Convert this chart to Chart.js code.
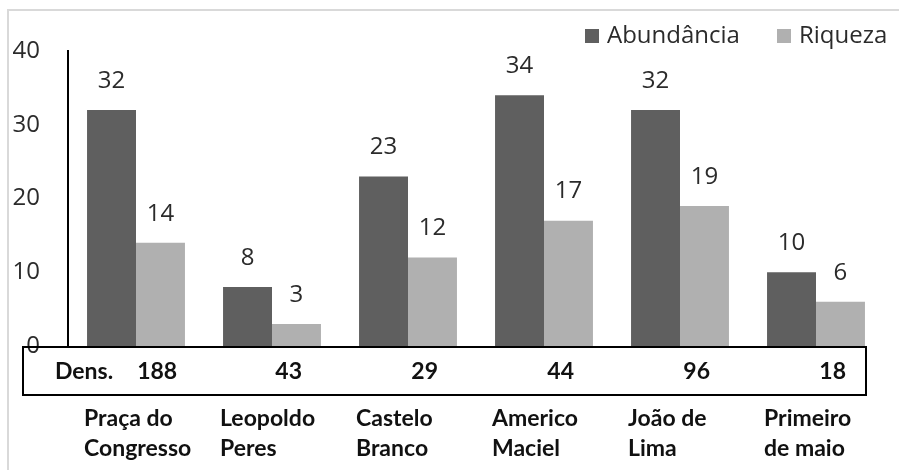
<!DOCTYPE html>
<html>
<head>
<meta charset="utf-8">
<script src="https://cdn.jsdelivr.net/npm/chart.js@4.4.1/dist/chart.umd.min.js"></script>
<style>
  html, body { margin: 0; padding: 0; background: #fff; }
  #wrap { width: 899px; height: 470px; position: relative; }
</style>
</head>
<body>
<div id="wrap"><canvas id="chart" width="899" height="470"></canvas></div>
<script>
const categories = [
    ['Praça do', 'Congresso'],
    ['Leopoldo', 'Peres'],
    ['Castelo', 'Branco'],
    ['Americo', 'Maciel'],
    ['João de', 'Lima'],
    ['Primeiro', 'de maio']
];
const abundancia = [32, 8, 23, 34, 32, 10];
const riqueza = [14, 3, 12, 17, 19, 6];
const densidade = [188, 43, 29, 44, 96, 18];
const densLabel = 'Dens.';
const seriesNames = ['Abundância', 'Riqueza'];
const seriesColors = ['#5f5f5f', '#b0b0b0'];

const tickFont = '"Open Sans", sans-serif';
const boldFont = 'Lato, "Open Sans", sans-serif';
const textColor = '#2b2b2b';

// frame, data labels, density table, category labels, legend
const extras = {
    id: 'extras',
    beforeDraw(chart) {
        const ctx = chart.ctx;
        ctx.save();
        ctx.strokeStyle = '#d9d9d9';
        ctx.lineWidth = 2;
        ctx.beginPath();
        ctx.moveTo(8, 470);
        ctx.lineTo(8, 10);
        ctx.lineTo(899, 10);
        ctx.stroke();
        ctx.restore();
    },
    afterDatasetsDraw(chart) {
        const ctx = chart.ctx;
        const x = chart.scales.x;
        const area = chart.chartArea;
        ctx.save();

        // value labels above bars
        ctx.font = '24px ' + tickFont;
        ctx.fillStyle = textColor;
        ctx.textAlign = 'center';
        ctx.textBaseline = 'middle';
        chart.data.datasets.forEach((ds, i) => {
            chart.getDatasetMeta(i).data.forEach((bar, j) => {
                ctx.fillText(String(ds.data[j]), bar.x, bar.y - 29);
            });
        });

        // density box
        const boxTop = area.bottom + 1;
        const boxBottom = area.bottom + 49;
        const boxLeft = area.left - 45;
        const boxRight = x.getPixelForValue(categories.length - 1) + 50;
        ctx.strokeStyle = '#000';
        ctx.lineWidth = 2;
        ctx.strokeRect(boxLeft, boxTop, boxRight - boxLeft, boxBottom - boxTop);

        ctx.font = 'bold 23px ' + boldFont;
        ctx.fillStyle = '#111';
        const rowY = (boxTop + boxBottom) / 2 + 1;
        ctx.textAlign = 'left';
        ctx.fillText(densLabel, boxLeft + 32, rowY);
        const labelEnd = boxLeft + 32 + ctx.measureText(densLabel).width;
        ctx.textAlign = 'right';
        densidade.forEach((v, j) => {
            const txt = String(v);
            const w = ctx.measureText(txt).width;
            const right = Math.max(x.getPixelForValue(j) + 30, labelEnd + 24 + w);
            ctx.fillText(txt, right, rowY);
        });

        // category labels
        ctx.textAlign = 'left';
        categories.forEach((lines, j) => {
            const cx = x.getPixelForValue(j) - 52;
            lines.forEach((line, k) => {
                ctx.fillText(line, cx, area.bottom + 73 + k * 30);
            });
        });

        // legend
        ctx.font = '24px ' + tickFont;
        ctx.textAlign = 'left';
        const legY = 36;
        const legX = [585, 777];
        seriesNames.forEach((name, i) => {
            ctx.fillStyle = seriesColors[i];
            ctx.fillRect(legX[i], legY - 7, 14, 14);
            ctx.fillStyle = textColor;
            ctx.fillText(name, legX[i] + 22, legY);
        });
        ctx.restore();
    }
};

new Chart(document.getElementById('chart'), {
    type: 'bar',
    data: {
        labels: categories,
        datasets: [
            { label: seriesNames[0], data: abundancia, backgroundColor: seriesColors[0] },
            { label: seriesNames[1], data: riqueza, backgroundColor: seriesColors[1] }
        ]
    },
    options: {
        responsive: false,
        animation: false,
        devicePixelRatio: 1,
        layout: { padding: { left: 8, top: 51, right: 15, bottom: 124 } },
        plugins: {
            legend: { display: false },
            tooltip: { enabled: false }
        },
        datasets: {
            bar: { categoryPercentage: 0.72, barPercentage: 1 }
        },
        scales: {
            x: { display: false },
            y: {
                min: 0,
                max: 40,
                ticks: {
                    stepSize: 10,
                    padding: 28,
                    color: textColor,
                    font: { family: tickFont, size: 24 }
                },
                grid: { display: false, drawTicks: false },
                border: { display: true, color: '#000', width: 2 },
                afterFit(scale) { scale.width = 60; }
            }
        }
    },
    plugins: [extras]
});
</script>
</body>
</html>
